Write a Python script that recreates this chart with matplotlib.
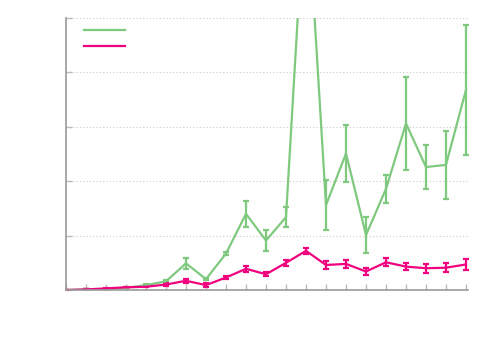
import numpy as np
import matplotlib
matplotlib.use('Agg')
import matplotlib.pyplot as plt
from matplotlib.lines import Line2D

# Values (x = step index)
steps = list(range(21))
green_mean = [0.0, 0.01, 0.02, 0.04, 0.09, 0.16, 0.49, 0.20, 0.67, 1.40, 0.91,
              1.34, 7.6, 1.56, 2.51, 1.01, 1.86, 3.06, 2.26, 2.30, 3.68]
green_err = [0.0, 0.0, 0.0, 0.01, 0.02, 0.02, 0.10, 0.02, 0.02, 0.24, 0.20,
             0.19, 1.0, 0.46, 0.52, 0.33, 0.26, 0.86, 0.40, 0.62, 1.20]
pink_mean = [0.0, 0.01, 0.03, 0.05, 0.06, 0.10, 0.17, 0.09, 0.23, 0.39, 0.29,
             0.50, 0.72, 0.46, 0.48, 0.34, 0.51, 0.43, 0.40, 0.41, 0.47]
pink_err = [0.0, 0.0, 0.01, 0.01, 0.01, 0.02, 0.04, 0.03, 0.03, 0.06, 0.04,
            0.05, 0.06, 0.07, 0.07, 0.07, 0.07, 0.07, 0.08, 0.08, 0.10]

green = '#7fc97f'
pink = '#f0027f'
axis_grey = '#999999'

fig = plt.figure(figsize=(5, 3.5), dpi=100)
ax = fig.add_axes([0.132, 0.1714, 0.804, 0.7772])

ax.errorbar(steps, green_mean, yerr=green_err, color=green, lw=1.6,
            elinewidth=1.6, capsize=2.2, capthick=1.6)
ax.errorbar(steps, pink_mean, yerr=pink_err, color=pink, lw=1.6,
            elinewidth=1.6, capsize=2.2, capthick=1.6)

ax.set_xlim(0, 20.1)
ax.set_ylim(0, 5)
ax.set_xticks(steps)
ax.set_yticks([0, 1, 2, 3, 4, 5])
ax.set_xticklabels([])
ax.set_yticklabels([])
ax.tick_params(direction='in', length=4, width=1, color='#bbbbbb')

# Horizontal dotted grid only
ax.yaxis.grid(True, linestyle=(0, (1, 2)), color='#cccccc', lw=0.8)
ax.set_axisbelow(True)

for side in ['top', 'right']:
    ax.spines[side].set_visible(False)
for side in ['left', 'bottom']:
    ax.spines[side].set_color(axis_grey)
    ax.spines[side].set_linewidth(1.2)

# Legend without text
handles = [Line2D([], [], color=green, lw=1.6),
           Line2D([], [], color=pink, lw=1.6)]
ax.legend(handles, [' ', ' '], loc='upper left', frameon=False,
          bbox_to_anchor=(0.03, 0.998), handlelength=2.95, fontsize=10,
          labelspacing=0.12, borderaxespad=0)

fig.savefig('out.png', dpi=100)
